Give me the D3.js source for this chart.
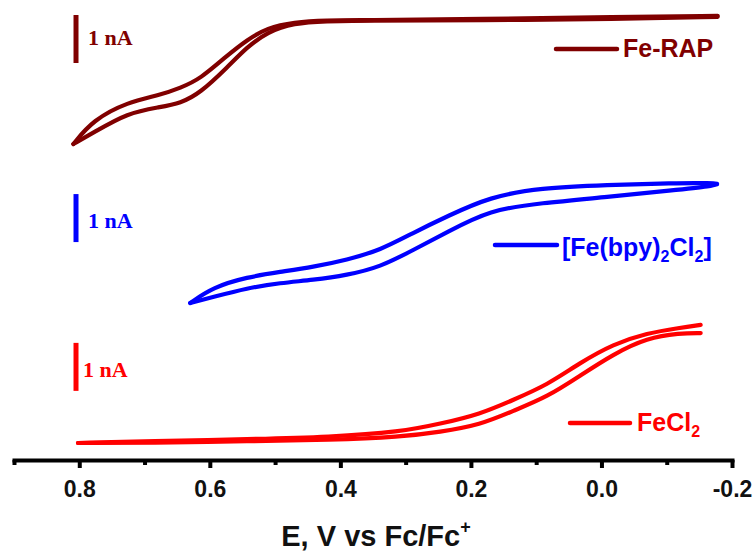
<!DOCTYPE html>
<html>
<head>
<meta charset="utf-8">
<script src="https://cdn.jsdelivr.net/npm/d3@7"></script>
<style>
  body { margin: 0; background: #fff; }
  svg { display: block; }
</style>
</head>
<body>
<svg id="cv" width="756" height="554"></svg>
<script>
// potentials in V vs Fc/Fc+, currents in nA relative to the start of each trace
var feRapE     = [0.809, 0.779, 0.726, 0.676, 0.645, 0.615, 0.573, 0.543, 0.512, 0.472, 0.420, 0.370, 0.186, -0.025, -0.178];
var feRapUpper = [0, 0.50, 0.875, 1.02, 1.17, 1.35, 1.85, 2.17, 2.42, 2.54, 2.58, 2.58, 2.60, 2.65, 2.67];
var feRapLower = [0, 0.23, 0.65, 0.77, 0.85, 1.06, 1.60, 2.02, 2.33, 2.52, 2.56, 2.57, 2.58, 2.60, 2.65];

var bpyE     = [0.630, 0.595, 0.543, 0.492, 0.442, 0.390, 0.339, 0.289, 0.236, 0.171, 0.094, -0.009, -0.110, -0.171, -0.177];
var bpyUpper = [0, 0.33, 0.54, 0.65, 0.75, 0.90, 1.10, 1.46, 1.81, 2.21, 2.40, 2.46, 2.50, 2.50, 2.48];
var bpyLower = [0, 0.125, 0.31, 0.42, 0.48, 0.58, 0.75, 1.10, 1.48, 1.94, 2.08, 2.21, 2.35, 2.44, 2.48];

var feCl2E     = [0.802, 0.691, 0.538, 0.416, 0.308, 0.247, 0.186, 0.135, 0.083, 0.033, -0.018, -0.070, -0.120, -0.152];
var feCl2Upper = [0, 0.04, 0.08, 0.125, 0.23, 0.40, 0.60, 0.90, 1.21, 1.67, 2.06, 2.29, 2.40, 2.46];
var feCl2Lower = [0, 0, 0.04, 0.06, 0.125, 0.23, 0.375, 0.67, 0.96, 1.40, 1.85, 2.19, 2.29, 2.29];

// vertical stacking of the three traces (nA) and the 1 nA scale bars
var offsets      = [6.583, 3.27, 0.354];
var scaleBarBase = [8.27, 4.54, 1.44];
var scaleBarE    = 0.805;

var majorTicks = [0.8, 0.6, 0.4, 0.2, 0.0, -0.2];
var minorTicks = [0.9, 0.7, 0.5, 0.3, 0.1, -0.1];

var colors = ['#800000', '#0000ff', '#ff0000'];

var svg = d3.select('#cv');

var x = d3.scaleLinear().domain([0.9, -0.2]).range([14, 732]);
var y = d3.scaleLinear().domain([0, 9.583]).range([460, 0]);

var line = d3.line()
  .curve(d3.curveBasis)
  .x(function(d) { return x(d[0]); })
  .y(function(d) { return y(d[1]); });

var series = [
  {E: feRapE, up: feRapUpper, lo: feRapLower},
  {E: bpyE, up: bpyUpper, lo: bpyLower},
  {E: feCl2E, up: feCl2Upper, lo: feCl2Lower}
];

series.forEach(function(s, k) {
  [s.lo, s.up].forEach(function(branch) {
    var pts = s.E.map(function(e, i) { return [e, branch[i] + offsets[k]]; });
    svg.append('path')
      .datum(pts)
      .attr('fill', 'none')
      .attr('stroke', colors[k])
      .attr('stroke-width', 4.2)
      .attr('stroke-linecap', 'round')
      .attr('stroke-linejoin', 'round')
      .attr('d', line);
  });
});

// scale bars
var barLabelX = [88, 88, 83];
var barLabelY = [45, 228, 377];
scaleBarBase.forEach(function(b, k) {
  svg.append('line')
    .attr('x1', x(scaleBarE)).attr('x2', x(scaleBarE))
    .attr('y1', y(b)).attr('y2', y(b + 1))
    .attr('stroke', colors[k])
    .attr('stroke-width', 5);
  svg.append('text')
    .attr('x', barLabelX[k]).attr('y', barLabelY[k])
    .attr('fill', colors[k])
    .style('font-family', '"Liberation Serif", "Times New Roman", serif')
    .style('font-weight', 'bold')
    .style('font-size', '22px')
    .text('1 nA');
});

// legends
var legend = [
  {x1: 556, x2: 617, ly: 49, tx: 623, ty: 57},
  {x1: 495, x2: 557, ly: 245, tx: 562, ty: 256},
  {x1: 570, x2: 630, ly: 423, tx: 637, ty: 431}
];
legend.forEach(function(l, k) {
  svg.append('line')
    .attr('x1', l.x1).attr('x2', l.x2)
    .attr('y1', l.ly).attr('y2', l.ly)
    .attr('stroke', colors[k])
    .attr('stroke-width', 4.5)
    .attr('stroke-linecap', 'round');
});

function legendText(k) {
  return svg.append('text')
    .attr('x', legend[k].tx).attr('y', legend[k].ty)
    .attr('fill', colors[k])
    .style('font-family', '"Liberation Sans", Arial, sans-serif')
    .style('font-weight', 'bold')
    .style('font-size', '25px');
}
legendText(0).text('Fe-RAP');

var t1 = legendText(1);
t1.append('tspan').text('[Fe(bpy)');
t1.append('tspan').attr('dy', 6).style('font-size', '16px').text('2');
t1.append('tspan').attr('dy', -6).text('Cl');
t1.append('tspan').attr('dy', 6).style('font-size', '16px').text('2');
t1.append('tspan').attr('dy', -6).text(']');

var t2 = legendText(2);
t2.append('tspan').text('FeCl');
t2.append('tspan').attr('dy', 6).style('font-size', '16px').text('2');

// x axis
var axisG = svg.append('g').attr('transform', 'translate(0,460)');

axisG.append('g')
  .call(d3.axisBottom(x).tickValues(minorTicks).tickSize(5).tickSizeOuter(0).tickFormat(''))
  .call(function(g) { g.select('.domain').remove(); })
  .selectAll('line').attr('stroke', '#000').attr('stroke-width', 4);

var major = axisG.append('g')
  .call(d3.axisBottom(x).tickValues(majorTicks).tickSize(8).tickSizeOuter(0).tickPadding(13)
    .tickFormat(function(d) { return d.toFixed(1); }));

major.select('.domain')
  .attr('stroke', '#000')
  .attr('stroke-width', 4)
  .attr('stroke-linecap', 'square');
major.selectAll('.tick line').attr('stroke', '#000').attr('stroke-width', 4);
major.selectAll('.tick text')
  .attr('fill', '#111')
  .style('font-family', '"Liberation Sans", Arial, sans-serif')
  .style('font-weight', 'bold')
  .style('font-size', '23px');

var title = svg.append('text')
  .attr('x', 376).attr('y', 546)
  .attr('text-anchor', 'middle')
  .attr('fill', '#111')
  .style('font-family', '"Liberation Sans", Arial, sans-serif')
  .style('font-weight', 'bold')
  .style('font-size', '29px');
title.append('tspan').text('E, V vs Fc/Fc');
title.append('tspan').attr('dy', -13).style('font-size', '18px').text('+');
</script>
</body>
</html>
